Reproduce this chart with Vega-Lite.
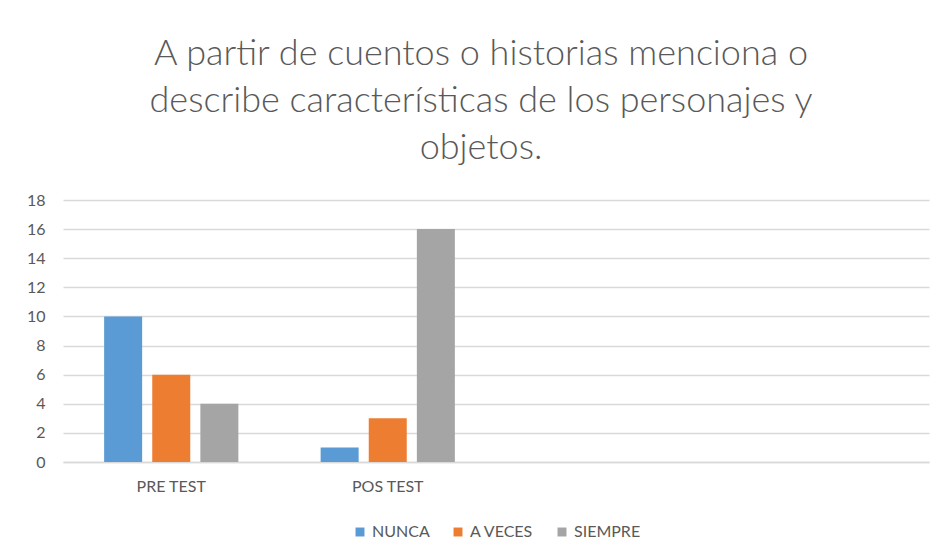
{
  "$schema": "https://vega.github.io/schema/vega-lite/v6.json",
  "autosize": "none",
  "width": 866,
  "height": 262,
  "padding": {"left": 63, "top": 200, "right": 10, "bottom": 94},
  "background": "white",
  "title": {
    "text": ["A partir de cuentos o historias menciona o", "describe características de los personajes y", "objetos."],
    "font": "Lato",
    "fontSize": 36,
    "fontWeight": 300,
    "color": "#595959",
    "lineHeight": 47,
    "anchor": "middle",
    "dx": -15,
    "offset": 25
  },
  "data": {
    "values": [
      {"test": "PRE TEST", "resp": "NUNCA", "value": 10},
      {"test": "PRE TEST", "resp": "A VECES", "value": 6},
      {"test": "PRE TEST", "resp": "SIEMPRE", "value": 4},
      {"test": "POS TEST", "resp": "NUNCA", "value": 1},
      {"test": "POS TEST", "resp": "A VECES", "value": 3},
      {"test": "POS TEST", "resp": "SIEMPRE", "value": 16}
    ]
  },
  "mark": {"type": "bar"},
  "encoding": {
    "x": {
      "field": "test",
      "type": "nominal",
      "scale": {"domain": ["PRE TEST", "POS TEST", "c3", "c4"], "paddingInner": 0, "paddingOuter": 0},
      "axis": {
        "title": null,
        "labelAngle": 0,
        "labelExpr": "datum.label == 'PRE TEST' || datum.label == 'POS TEST' ? datum.label : ''",
        "labelFont": "Lato",
        "labelFontSize": 16,
        "labelColor": "#595959",
        "labelPadding": 16,
        "ticks": false,
        "domainColor": "#D9D9D9",
        "domainWidth": 1.5,
        "grid": false
      }
    },
    "xOffset": {
      "field": "resp",
      "type": "nominal",
      "sort": ["NUNCA", "A VECES", "SIEMPRE"],
      "scale": {"paddingInner": 0.21, "paddingOuter": 0.855}
    },
    "y": {
      "field": "value",
      "type": "quantitative",
      "scale": {"domain": [0, 18]},
      "axis": {
        "title": null,
        "values": [0, 2, 4, 6, 8, 10, 12, 14, 16, 18],
        "labelFont": "Lato",
        "labelFontSize": 16,
        "labelColor": "#595959",
        "labelPadding": 18,
        "ticks": false,
        "domain": false,
        "gridColor": "#D9D9D9",
        "gridWidth": 1.5
      }
    },
    "color": {
      "field": "resp",
      "type": "nominal",
      "sort": ["NUNCA", "A VECES", "SIEMPRE"],
      "scale": {"domain": ["NUNCA", "A VECES", "SIEMPRE"], "range": ["#5B9BD5", "#ED7D31", "#A5A5A5"]},
      "legend": {
        "title": null,
        "orient": "bottom",
        "direction": "horizontal",
        "symbolType": "square",
        "symbolSize": 80,
        "symbolStrokeWidth": 0,
        "labelFont": "Lato",
        "labelFontSize": 16,
        "labelColor": "#595959",
        "columnPadding": 20,
        "offset": 30
      }
    }
  },
  "config": {
    "view": {"stroke": null},
    "legend": {"layout": {"bottom": {"anchor": "middle"}}}
  }
}
